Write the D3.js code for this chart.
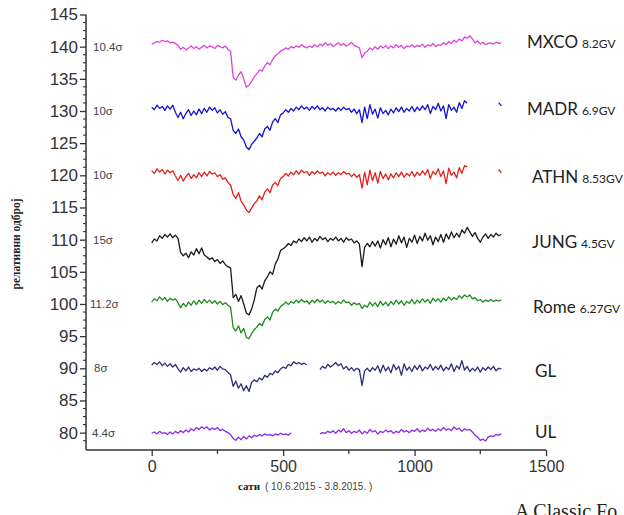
<!DOCTYPE html>
<html><head><meta charset="utf-8">
<script src="https://cdn.jsdelivr.net/npm/d3@7"></script>
<style>body{margin:0;background:#fff}svg{display:block}</style>
</head><body><svg id="c" width="624" height="515"></svg>
<script>
const hourStep = 10;
const stations = ["MXCO","MADR","ATHN","JUNG","Rome","GL","UL"];
const rigidity = ["8.2GV","6.9GV","8.53GV","4.5GV","6.27GV","",""];
const sigmaLabels = ["10.4σ","10σ","10σ","15σ","11.2σ","8σ","4.4σ"];
const sigmaLevels = [140,130,120,110,100,90,80];
const colors = ["#dd44dd","#1414d4","#e3201b","#1a1a1a","#1f8a1f","#2e2e7e","#8b2be2"];
const xTicks = [0,500,1000,1500];
const xMinor = [250,750,1250];
const yTicks = [80,85,90,95,100,105,110,115,120,125,130,135,140,145];
const N = null;

const mxco = [140.4,140.6,140.8,140.7,141.0,140.8,140.9,140.6,140.7,140.5,
140.2,139.6,139.9,139.5,139.8,140.1,139.7,140.0,139.6,139.9,
140.2,139.8,140.1,140.0,139.7,140.2,140.0,139.8,140.1,139.6,
139.3,135.2,134.8,135.6,136.1,135.0,133.7,134.0,134.6,135.3,
135.8,136.4,136.2,137.0,137.5,137.2,138.0,138.6,138.9,139.3,
139.5,139.8,139.6,140.0,139.8,140.1,139.9,140.3,140.0,139.8,
140.1,139.9,140.3,140.0,140.4,140.1,140.6,140.2,140.5,140.0,
140.3,140.6,140.2,140.5,140.1,140.3,140.7,140.2,140.0,139.8,
138.3,139.0,139.3,139.8,139.5,140.0,139.6,140.1,139.8,140.2,
139.7,140.1,139.8,140.3,139.9,140.2,139.7,140.1,140.0,140.3,
139.9,140.2,140.0,140.4,139.9,140.3,140.1,140.5,140.0,140.3,
140.2,140.6,140.3,140.8,140.5,141.0,140.7,141.2,140.9,141.5,
141.3,141.7,141.2,140.6,140.9,140.4,140.7,140.3,140.5,140.6,
140.4,140.7,140.5,140.6];

const madr = [130.6,130.2,130.9,130.4,130.7,130.1,130.8,130.3,130.9,129.8,
129.0,129.8,128.8,129.6,130.2,129.3,130.0,129.4,130.3,129.6,
130.4,129.8,130.6,130.1,130.5,129.7,130.2,129.5,129.9,129.0,
128.8,127.0,126.5,127.2,126.0,125.5,124.4,124.0,124.8,125.3,
125.8,126.5,126.0,127.2,127.6,127.0,128.3,128.8,128.2,129.4,
129.7,130.2,129.8,130.4,130.0,130.6,130.2,130.8,130.3,130.6,
130.1,130.7,130.3,130.8,130.2,130.5,130.0,130.6,130.2,130.4,
130.0,130.5,130.1,130.6,130.2,130.4,129.8,130.3,129.6,130.2,
128.2,130.6,128.8,131.0,129.5,130.3,128.9,130.5,129.6,130.1,
129.4,130.3,129.7,130.5,129.9,130.6,129.8,130.4,130.0,130.7,
129.9,130.6,130.1,130.8,130.2,131.0,129.6,130.7,130.2,131.2,
130.0,130.8,128.8,131.0,130.1,130.6,129.8,131.3,130.4,131.6,
131.2,N,N,N,N,N,N,N,N,N,
N,N,131.3,130.8];

const athn = [120.7,120.3,121.0,120.5,120.9,120.2,120.8,120.4,120.7,119.9,
119.2,120.0,119.1,119.8,120.3,119.5,120.1,119.6,120.4,119.8,
120.5,119.9,120.6,120.2,120.4,119.8,120.1,119.4,119.6,118.9,
118.5,117.0,116.4,117.3,116.0,115.4,114.6,114.2,114.9,115.6,
116.0,116.8,116.2,117.4,117.9,117.3,118.5,118.9,118.4,119.5,
119.8,120.3,119.9,120.5,120.1,120.7,120.2,120.8,120.4,120.6,
120.0,120.6,120.2,120.7,120.3,120.5,119.9,120.4,120.1,120.5,
120.0,120.4,120.1,120.6,120.2,120.3,119.8,120.2,119.7,120.1,
118.0,120.5,118.5,120.8,119.2,120.4,118.8,120.6,119.5,120.2,
119.3,120.2,119.6,120.4,119.8,120.5,119.7,120.3,119.9,120.6,
119.8,120.5,120.0,120.7,120.1,120.9,119.5,120.6,120.1,121.0,
119.8,120.7,118.7,121.1,120.0,120.5,119.6,121.2,120.3,121.5,
121.3,N,N,N,N,N,N,N,N,N,
N,N,120.9,120.4];

const jung = [109.5,110.1,109.8,110.6,110.2,110.8,110.4,110.9,110.3,110.7,
110.2,108.0,107.5,107.9,107.2,108.1,107.6,108.6,107.8,108.7,
107.6,107.3,106.9,107.2,106.6,106.9,106.3,106.7,106.1,105.8,
105.6,101.0,101.5,100.4,101.3,100.0,98.6,98.3,99.2,100.6,
102.5,102.9,102.3,103.6,104.2,105.0,104.6,106.2,107.0,108.3,
108.6,108.9,109.4,109.1,109.8,109.5,110.1,109.7,110.3,109.8,
110.4,109.6,110.2,109.8,110.5,110.0,110.3,109.7,110.2,109.9,
110.4,109.8,110.2,109.6,110.3,109.9,110.1,109.5,109.8,109.3,
105.8,108.8,109.4,108.9,109.7,109.0,109.8,108.7,110.0,109.2,
110.3,108.9,110.1,109.3,110.6,109.5,110.4,108.8,110.2,109.6,
110.7,109.4,110.5,109.8,111.0,109.9,110.6,109.2,110.4,109.7,
110.8,109.6,110.9,110.1,111.2,110.3,111.0,110.4,111.5,111.0,
111.9,111.2,110.5,111.1,110.2,109.6,110.4,110.9,110.2,110.8,
110.4,111.0,110.6,110.8];

const rome = [100.3,100.8,100.5,101.1,100.6,101.0,100.4,100.9,100.6,100.8,
100.2,99.4,100.1,99.6,100.3,99.8,100.5,99.9,100.6,100.1,
100.7,100.2,100.6,100.1,100.5,100.0,100.4,99.9,100.2,99.8,
99.5,96.3,95.8,96.6,95.5,96.2,94.8,94.6,95.4,96.0,
96.4,97.0,96.6,97.6,98.0,97.5,98.7,99.2,98.9,99.6,
99.9,100.3,99.9,100.4,100.1,100.6,100.2,100.7,100.3,100.5,
100.0,100.6,100.2,100.7,100.3,100.6,100.1,100.5,100.2,100.4,
100.0,100.4,100.1,100.6,100.2,100.3,99.8,100.2,99.9,100.1,
99.3,99.8,99.5,100.3,99.7,100.2,99.6,100.4,99.8,100.3,
99.7,100.4,99.9,100.6,100.0,100.5,99.8,100.4,100.1,100.7,
100.0,100.6,100.2,100.8,100.3,100.7,100.1,100.9,100.4,100.8,
100.3,100.9,100.5,101.1,100.6,101.0,100.7,101.3,100.9,101.4,
101.1,101.4,100.8,101.0,100.5,100.7,100.3,100.6,100.4,100.7,
100.4,100.6,100.5,100.6];

const gl = [90.5,90.9,90.6,91.0,90.4,90.8,90.3,90.7,90.2,90.6,
89.9,89.4,90.1,89.6,90.2,89.5,89.9,89.7,90.0,89.5,
89.9,89.6,90.1,89.8,90.2,89.7,90.3,89.9,89.8,89.4,
89.0,87.2,88.0,86.9,87.6,86.5,87.3,86.4,87.8,88.2,
87.9,88.5,88.2,88.9,88.6,89.2,89.0,89.6,89.3,89.9,
90.2,90.0,90.6,90.4,91.0,90.7,90.9,90.6,90.8,90.5,
N,N,N,N,89.8,90.3,90.0,90.6,90.2,90.5,
90.9,90.4,90.7,89.9,90.3,89.7,90.1,89.6,90.0,89.8,
87.3,89.6,90.0,89.5,90.1,89.7,90.4,89.3,90.5,89.6,
90.2,89.3,90.6,89.8,90.3,88.9,90.7,89.7,90.2,89.5,
90.4,89.8,90.5,89.6,90.2,89.9,90.6,89.7,90.3,89.8,
90.5,89.6,90.2,89.8,90.7,89.5,90.4,89.9,91.2,89.7,
90.3,89.5,90.0,89.6,90.2,89.4,90.1,89.7,90.2,89.8,
90.3,89.6,90.0,89.9];

const ul = [79.9,80.1,79.8,80.2,79.9,80.0,79.7,80.1,79.8,80.2,
79.9,80.3,80.0,80.4,80.1,80.6,80.3,80.8,80.5,80.9,
80.6,80.9,80.4,80.7,80.5,80.8,80.3,80.5,80.2,80.0,
79.7,79.1,78.8,79.3,78.9,79.4,79.0,79.5,79.2,79.6,
79.4,79.7,79.5,79.8,79.6,79.7,79.5,79.8,79.6,79.9,
79.7,79.8,79.6,80.0,N,N,N,N,N,N,
N,N,N,N,79.8,80.0,79.9,80.2,80.0,80.3,
79.9,80.4,80.1,80.6,80.0,80.3,79.9,80.2,80.0,80.4,
79.8,80.2,79.9,80.5,80.1,80.3,79.8,80.2,80.0,80.4,
80.1,80.3,79.9,80.2,80.0,80.5,80.1,80.3,80.0,80.4,
80.2,80.6,80.1,80.4,80.2,80.7,80.3,80.5,80.2,80.6,
80.3,80.8,80.4,80.6,80.3,80.9,80.5,80.7,80.2,80.6,
80.4,80.5,80.1,79.6,79.3,78.8,79.0,78.7,79.3,79.5,
79.4,79.7,79.6,79.8];

const seriesValues = [mxco, madr, athn, jung, rome, gl, ul];

const svg = d3.select("#c");
const x = d3.scaleLinear().domain([-250,1500]).range([86,546]);
const y = d3.scaleLinear().domain([77.3,145]).range([450,14.5]);
const axisCol = "#333";

// lines
const line = d3.line().defined(d => d.v != null).x(d => x(d.h)).y(d => y(d.v));
seriesValues.forEach((vals, i) => {
  const pts = vals.map((v, k) => ({h: k * hourStep, v}));
  svg.append("path").attr("d", line(pts)).attr("fill","none")
    .attr("stroke", colors[i]).attr("stroke-width", 1.3).attr("stroke-linejoin","round");
});

// y axis
const yAxis = d3.axisLeft(y).tickValues(yTicks).tickSize(6).tickPadding(2).tickFormat(d3.format("d"));
const gy = svg.append("g").attr("transform","translate(86,0)").call(yAxis);
gy.select(".domain").attr("stroke",axisCol).attr("stroke-width",1.5).attr("d","M0,450V14.5");
gy.selectAll(".tick line").attr("stroke",axisCol).attr("stroke-width",1.3);
gy.selectAll("text").attr("font-family","Liberation Sans, Arial, sans-serif").attr("font-size",17).attr("fill",axisCol);
const yMinor = d3.range(78.75, 145, 1.25).filter(v => Math.abs(v/5 - Math.round(v/5)) > 1e-6);
svg.append("g").selectAll("line").data(yMinor).join("line")
  .attr("x1",83).attr("x2",86).attr("y1",d=>y(d)).attr("y2",d=>y(d)).attr("stroke",axisCol).attr("stroke-width",1.1);

// x axis
const xAxis = d3.axisBottom(x).tickValues(xTicks).tickSize(6).tickPadding(5).tickFormat(d3.format("d"));
const gx = svg.append("g").attr("transform","translate(0,450)").call(xAxis);
gx.select(".domain").attr("stroke",axisCol).attr("stroke-width",1.5).attr("d","M86,0H546");
gx.selectAll(".tick line").attr("stroke",axisCol).attr("stroke-width",1.3);
gx.selectAll("text").attr("font-family","Liberation Sans, Arial, sans-serif").attr("font-size",16).attr("fill",axisCol);
svg.append("g").selectAll("line").data(xMinor).join("line")
  .attr("x1",d=>x(d)).attr("x2",d=>x(d)).attr("y1",450).attr("y2",454).attr("stroke",axisCol).attr("stroke-width",1.3);

// sigma labels
const sigX = [93,93,93,93,90,94,92];
svg.append("g").selectAll("text").data(sigmaLabels).join("text")
  .attr("x",(d,i)=>sigX[i]).attr("y",(d,i)=>y(sigmaLevels[i])+4)
  .attr("font-family","Liberation Sans, Arial, sans-serif").attr("font-size",11.5).attr("fill","#444")
  .text(d=>d);

// station labels
const labX = [527,527,532,532,533,535,535];
const labY = [48,115,183,248,313,377,438];
stations.forEach((s,i)=>{
  const t = svg.append("text").attr("x",labX[i]).attr("y",labY[i])
    .attr("font-family","Lato, 'Open Sans', sans-serif").attr("fill","#222");
  t.append("tspan").attr("font-size",17).text(s);
  if (rigidity[i]) t.append("tspan").attr("font-size",12).attr("dx",4).text(rigidity[i]);
});

// axis titles
svg.append("text").attr("transform","translate(20,244) rotate(-90)").attr("text-anchor","middle")
  .attr("font-family","Liberation Serif, Times New Roman, serif").attr("font-weight","bold")
  .attr("font-size",11.5).attr("fill","#222").text("релативни одброј");
const xt = svg.append("text").attr("x",238).attr("y",490).attr("fill","#222");
xt.append("tspan").attr("font-family","Liberation Serif, serif").attr("font-weight","bold").attr("font-size",11).text("сати");
xt.append("tspan").attr("dx",5).attr("font-family","Liberation Sans, Arial, sans-serif").attr("font-size",10).attr("fill","#444").text("( 10.6.2015 - 3.8.2015. )");

svg.append("text").attr("x",515).attr("y",518).attr("font-family","Liberation Serif, Times New Roman, serif")
  .attr("font-size",20).attr("fill","#222").text("A Classic Fo");
</script></body></html>
